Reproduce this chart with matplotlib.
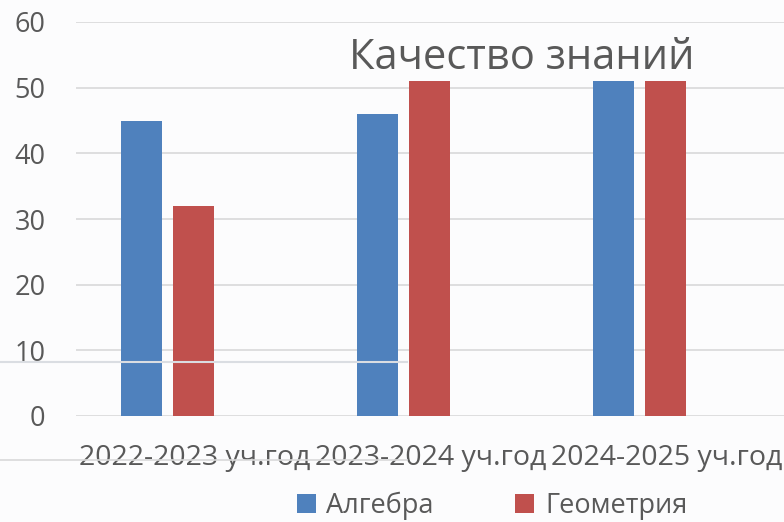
import matplotlib
matplotlib.use('Agg')
import matplotlib.pyplot as plt
import numpy as np

plt.rcParams['font.family'] = ['Open Sans', 'DejaVu Sans']

categories = ['2022-2023 уч.год', '2023-2024 уч.год', '2024-2025 уч.год']
algebra = [45, 46, 51]
geometry = [32, 51, 51]
series_names = ['Алгебра', 'Геометрия']
title = 'Качество знаний'

blue = '#4F81BD'
red = '#C0504D'
text_col = '#595959'
grid_col = '#D9D9D9'
bg = '#FCFCFD'

fig = plt.figure(figsize=(7.84, 5.22), dpi=100, facecolor=bg)
ax = fig.add_axes([76 / 784, 1 - 416 / 522, 1 - 76 / 784, 394 / 522])
ax.set_facecolor(bg)

x = np.arange(len(categories))
w = 0.174
off = 0.111
ax.bar(x - off, algebra, w, color=blue, label=series_names[0], zorder=3)
ax.bar(x + off, geometry, w, color=red, label=series_names[1], zorder=3)

ax.set_xlim(-0.388, 2.612)
ax.set_ylim(0, 60)
ax.set_yticks(range(0, 61, 10))
ax.yaxis.grid(True, color=grid_col, lw=1.2, zorder=0)
ax.tick_params(axis='y', length=0, pad=22, labelsize=19.5, labelcolor=text_col)
ax.set_xticks(x + 0.115)
ax.set_xticklabels(categories)
ax.tick_params(axis='x', length=0, pad=20, labelsize=20.5, labelcolor=text_col)
for s in ax.spines.values():
    s.set_visible(False)

fig.text(522 / 784, 1 - 58 / 522, title, ha='center', va='center',
         fontsize=30, color=text_col)

leg = fig.legend(loc='center', bbox_to_anchor=(492 / 784, 1 - 506 / 522),
                 ncol=2, frameon=False, fontsize=19.5, labelcolor=text_col,
                 handlelength=0.7, handleheight=0.7, handletextpad=0.4,
                 columnspacing=3.0)

# stray lines from the screenshot
fig.add_artist(plt.Line2D([0, 407 / 784], [1 - 362 / 522] * 2, color='#DADDE2',
                          lw=1.5, transform=fig.transFigure, zorder=10))
fig.add_artist(plt.Line2D([0, 407 / 784], [1 - 460 / 522] * 2, color='#D9D9D9',
                          lw=1.2, transform=fig.transFigure, zorder=10))

fig.savefig('out.png', dpi=100, facecolor=bg)
